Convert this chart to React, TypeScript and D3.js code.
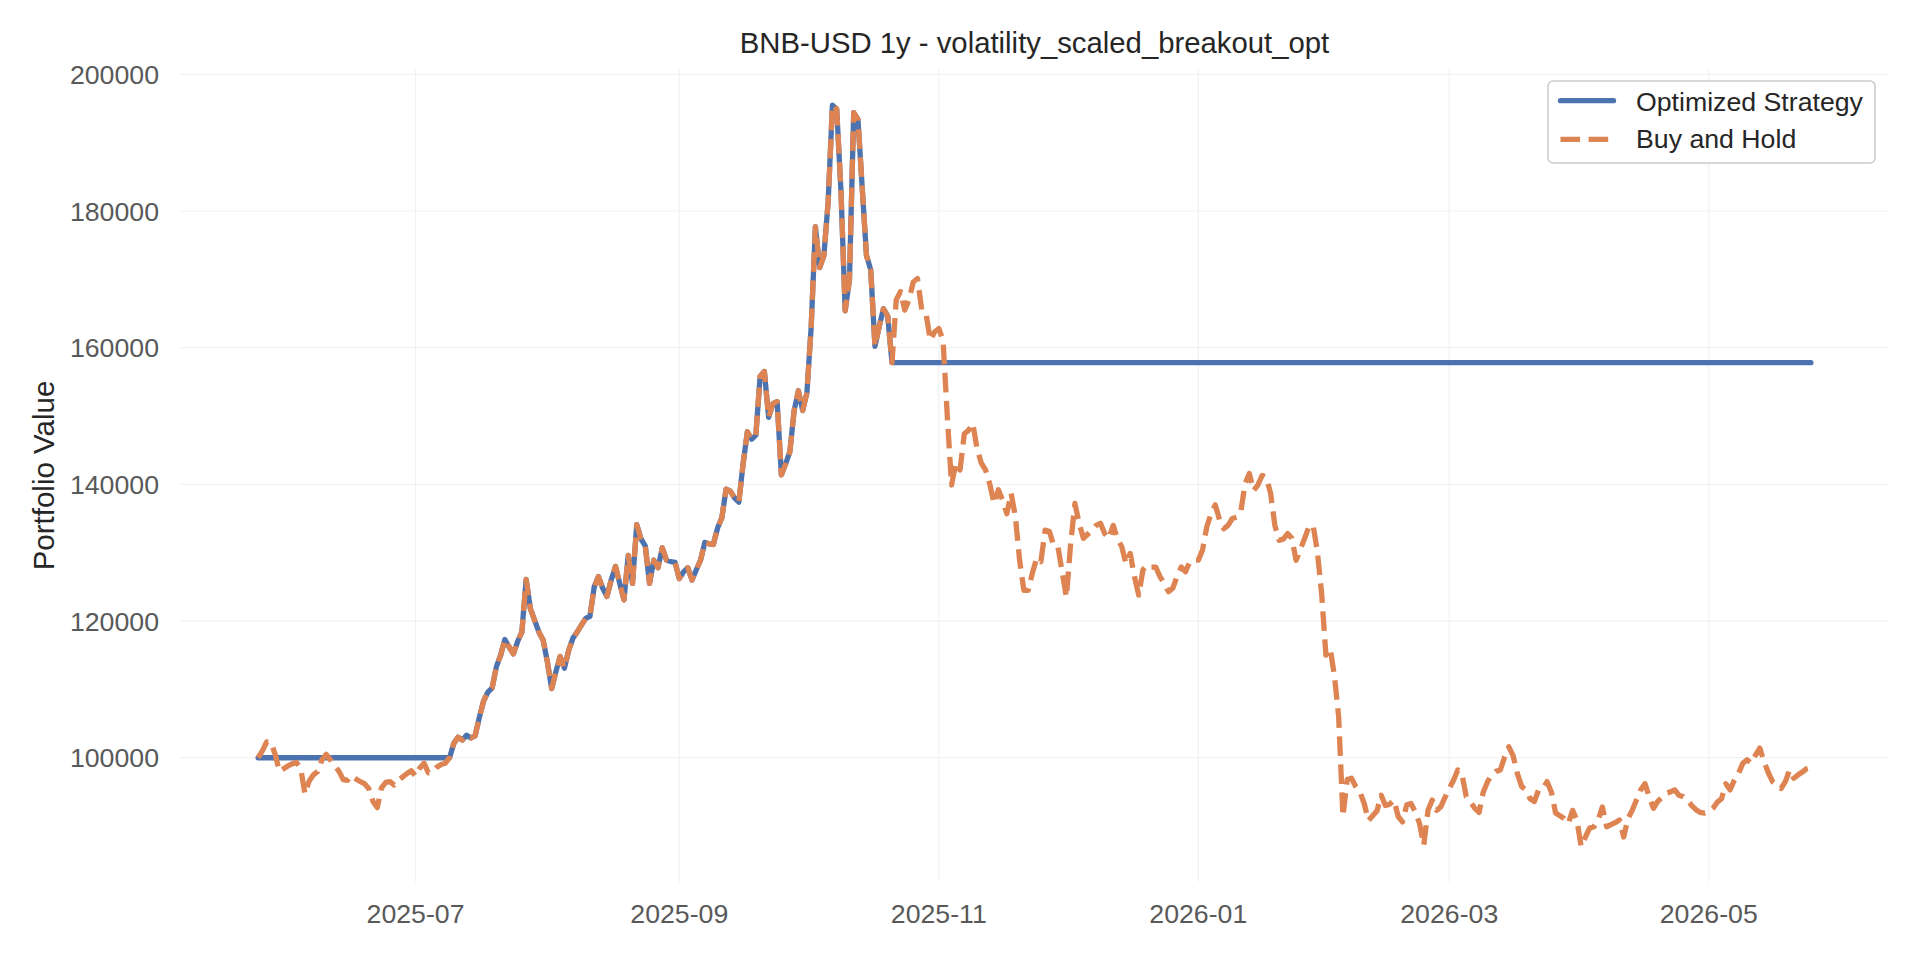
import * as d3 from "d3";

// Daily portfolio values (thousands of USD), 2025-05-25 .. 2026-05-25
const START_DATE = "2025-05-25";
const buyHoldK = [
  100.0, 101.0, 102.3, 102.3, 100.5, 98.0, 98.4, 98.8, 99.1, 99.3,
  98.5, 94.7, 96.6, 97.5, 98.0, 99.7, 100.5, 99.7, 98.8, 98.0,
  96.8, 96.7, 97.4, 96.9, 96.5, 96.2, 95.5, 93.6, 92.7, 95.6,
  96.4, 96.5, 96.0, 96.7, 97.2, 97.7, 98.1, 97.3, 98.5, 99.2,
  97.8, 97.9, 98.6, 99.0, 99.2, 100.0, 102.1, 103.0, 102.6, 103.3,
  102.9, 103.2, 105.9, 108.3, 109.6, 110.2, 113.3, 115.0, 117.3, 116.2,
  115.2, 117.0, 118.4, 126.1, 121.8, 120.1, 118.4, 117.2, 114.0, 110.1,
  112.6, 114.8, 113.1, 115.7, 117.5, 118.4, 119.4, 120.4, 120.7, 125.0,
  126.5, 124.8, 123.6, 126.0, 128.0, 125.5, 123.1, 129.6, 125.5, 134.1,
  132.0, 131.0, 125.5, 128.9, 127.8, 130.7, 128.9, 128.7, 128.6, 126.2,
  127.2, 127.8, 126.0, 127.5, 128.9, 131.5, 131.3, 131.2, 133.6, 135.1,
  139.3, 139.0, 138.0, 137.4, 143.0, 147.7, 146.6, 147.2, 155.8, 156.5,
  149.8, 151.8, 152.1, 141.4, 143.0, 144.8, 150.8, 153.7, 150.8, 153.4,
  163.0, 177.7, 171.7, 173.5, 181.4, 195.5, 194.9, 183.0, 165.4, 169.9,
  194.4, 193.4, 183.4, 173.5, 171.4, 160.2, 163.1, 165.7, 164.6, 157.8,
  167.0, 168.2, 165.5, 167.0, 169.6, 170.1, 165.5, 165.0, 161.1, 162.3,
  162.8, 161.1, 150.0, 139.9, 143.1, 142.1, 147.4, 147.9, 148.9, 145.2,
  143.1, 142.1, 140.0, 137.2, 139.2, 137.7, 135.7, 138.7, 135.3, 128.9,
  124.5, 124.5, 127.0, 129.2, 128.7, 133.3, 133.1, 131.1, 130.9, 127.2,
  123.5, 131.3, 137.2, 134.3, 132.1, 132.7, 133.3, 134.0, 134.3, 132.8,
  132.1, 134.0, 132.0, 130.9, 128.4, 129.9, 126.5, 123.8, 127.5, 128.2,
  127.9, 127.9, 126.5, 125.5, 124.3, 124.8, 126.5, 127.9, 127.2, 128.7,
  128.9, 128.9, 130.4, 133.8, 135.7, 137.0, 134.8, 133.5, 134.0, 135.0,
  135.2, 136.0, 140.1, 141.6, 139.1, 139.9, 141.3, 141.0, 138.7, 134.0,
  131.8, 132.0, 132.8, 132.1, 128.9, 130.5, 132.1, 133.8, 134.0, 130.1,
  124.0, 115.0, 116.0, 112.0, 106.0, 91.4, 96.8, 97.0, 95.8, 95.0,
  93.3, 90.8, 91.5, 92.2, 94.5, 93.0, 93.2, 93.8, 91.4, 90.6,
  93.1, 93.3, 92.1, 90.4, 87.2, 92.3, 93.8, 92.3, 92.8, 94.2,
  95.5, 96.7, 98.2, 97.5, 94.3, 93.5, 92.6, 92.0, 95.0, 96.5,
  97.5, 98.0, 98.2, 100.1, 101.6, 100.3, 97.7, 95.8, 95.3, 94.0,
  93.6, 95.3, 95.5, 96.5, 95.0, 91.9, 91.5, 91.1, 90.4, 92.3,
  90.9, 87.0, 88.4, 89.7, 89.9, 90.9, 92.8, 89.9, 90.2, 90.5,
  90.9, 88.4, 91.1, 92.3, 93.8, 95.3, 96.2, 94.3, 92.6, 93.6,
  94.2, 94.8, 95.0, 95.3, 94.5, 94.3, 93.8, 93.0, 92.4, 92.0,
  91.9, 92.1, 92.6, 93.5, 94.0, 96.2, 95.3, 96.7, 97.7, 99.2,
  99.7, 99.2, 100.4, 101.4, 99.4, 97.8, 96.5, 96.0, 95.5, 96.5,
  98.2, 97.0, 97.5, 97.9, 98.4, 98.6,
];

// strategy: in cash (initial capital) until entry, invested until exit, then flat
const INITIAL_CAPITAL_K = 100.0;
const STRATEGY_ENTRY = "2025-07-09";
const STRATEGY_EXIT = "2025-10-21";
const STRATEGY_EXIT_VALUE_K = 157.8;

const yTicks = [100000, 120000, 140000, 160000, 180000, 200000];
const xTicks = ["2025-07-01", "2025-09-01", "2025-11-01", "2026-01-01", "2026-03-01", "2026-05-01"];
const seriesNames = ["Optimized Strategy", "Buy and Hold"];
const seriesColors = ["#4c72b0", "#dd8452"];

const TITLE = "BNB-USD 1y - volatility_scaled_breakout_opt";
const Y_LABEL = "Portfolio Value";

const W = 1920;
const H = 960;
const plot = { left: 180.5, right: 1888.5, top: 69.3, bottom: 881.7 };
const yDomain = [81860, 200730];
const FONT = "'Liberation Sans', Arial, Helvetica, sans-serif";
const LW = 5.3;

type Pt = { date: Date; value: number };

export default function App() {
  const parse = d3.utcParse("%Y-%m-%d");
  const start = parse(START_DATE)!;
  const dates = buyHoldK.map((_, i) => d3.utcDay.offset(start, i));
  const entry = parse(STRATEGY_ENTRY)!.getTime();
  const exit = parse(STRATEGY_EXIT)!.getTime();

  const buyHold: Pt[] = dates.map((d, i) => ({ date: d, value: buyHoldK[i] * 1000 }));
  const strategy: Pt[] = dates.map((d, i) => {
    const t = d.getTime();
    const k = t < entry ? INITIAL_CAPITAL_K : t <= exit ? buyHoldK[i] : STRATEGY_EXIT_VALUE_K;
    return { date: d, value: k * 1000 };
  });

  // 5% padding on the time axis, like matplotlib's default margins
  const span = dates[dates.length - 1].getTime() - start.getTime();
  const pad = span * 0.05;
  const x = d3
    .scaleUtc()
    .domain([new Date(start.getTime() - pad), new Date(dates[dates.length - 1].getTime() + pad)])
    .range([plot.left, plot.right]);
  const y = d3.scaleLinear().domain(yDomain).range([plot.bottom, plot.top]);

  const line = d3
    .line<Pt>()
    .x((d) => x(d.date))
    .y((d) => y(d.value));

  const fmt = d3.utcFormat("%Y-%m");
  const tickDates = xTicks.map((s) => parse(s)!);

  const legendX = 1548;
  const legendY = 81;

  return (
    <svg
      width={W}
      height={H}
      viewBox={`0 0 ${W} ${H}`}
      style={{ position: "absolute", left: 0, top: 0, background: "#fff" }}
      fontFamily={FONT}
    >
      <rect x={0} y={0} width={W} height={H} fill="#fff" />

      {/* grid */}
      <g stroke="#f1f1f1" strokeWidth={1.2}>
        {yTicks.map((v) => (
          <line key={v} x1={plot.left} x2={plot.right} y1={y(v)} y2={y(v)} />
        ))}
        {tickDates.map((d) => (
          <line key={d.getTime()} x1={x(d)} x2={x(d)} y1={plot.top} y2={plot.bottom} />
        ))}
      </g>

      {/* tick labels */}
      <g fill="#595959" fontSize={26.7}>
        {yTicks.map((v) => (
          <text key={v} x={159} y={y(v) + 9.6} textAnchor="end">
            {v}
          </text>
        ))}
        {tickDates.map((d) => (
          <text key={d.getTime()} x={x(d)} y={923} textAnchor="middle">
            {fmt(d)}
          </text>
        ))}
      </g>

      {/* series */}
      <path
        d={line(strategy) ?? ""}
        fill="none"
        stroke={seriesColors[0]}
        strokeWidth={LW}
        strokeLinejoin="round"
        strokeLinecap="round"
      />
      <path
        d={line(buyHold) ?? ""}
        fill="none"
        stroke={seriesColors[1]}
        strokeWidth={LW}
        strokeLinejoin="round"
        strokeDasharray={`${3.7 * LW} ${1.6 * LW}`}
      />

      {/* title and axis label */}
      <text x={(plot.left + plot.right) / 2} y={53} textAnchor="middle" fontSize={29.3} fill="#262626">
        {TITLE}
      </text>
      <text
        transform={`translate(54, ${(plot.top + plot.bottom) / 2}) rotate(-90)`}
        textAnchor="middle"
        fontSize={29.5}
        fill="#262626"
      >
        {Y_LABEL}
      </text>

      {/* legend */}
      <g>
        <rect
          x={legendX}
          y={legendY}
          width={327}
          height={82}
          rx={5}
          fill="rgba(255,255,255,0.8)"
          stroke="#cccccc"
          strokeWidth={1.6}
        />
        {seriesNames.map((name, i) => {
          const ly = legendY + 19.7 + i * 38.6;
          return (
            <g key={name}>
              <line
                x1={legendX + 12.5}
                x2={legendX + 65.5}
                y1={ly}
                y2={ly}
                stroke={seriesColors[i]}
                strokeWidth={LW}
                strokeLinecap={i === 0 ? "round" : "butt"}
                strokeDasharray={i === 0 ? undefined : `${3.7 * LW} ${1.6 * LW}`}
              />
              <text x={legendX + 88} y={legendY + 30.3 + i * 36.3} fontSize={26.7} fill="#262626">
                {name}
              </text>
            </g>
          );
        })}
      </g>
    </svg>
  );
}
